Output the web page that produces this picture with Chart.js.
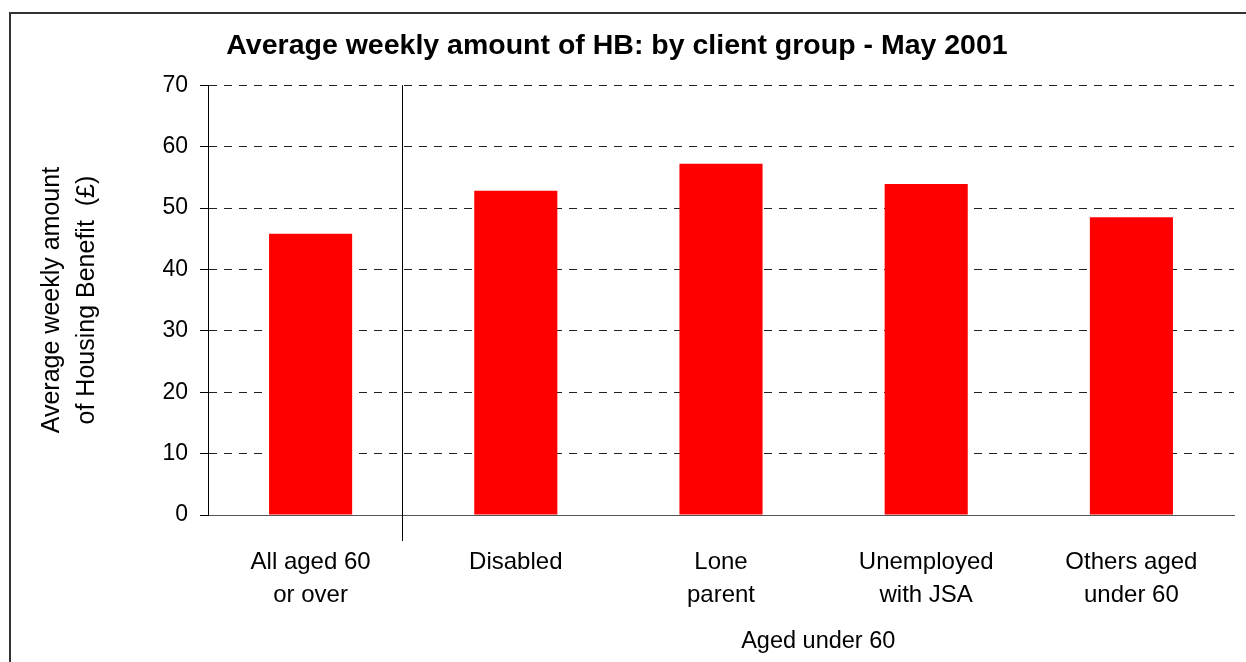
<!DOCTYPE html>
<html>
<head>
<meta charset="utf-8">
<script src="https://cdn.jsdelivr.net/npm/chart.js@4.4.0/dist/chart.umd.min.js"></script>
<style>
  html, body { margin: 0; padding: 0; background: #fff; }
  #wrap { width: 1246px; height: 662px; position: relative; }
</style>
</head>
<body>
<div id="wrap"><canvas id="hb"></canvas></div>
<script>
// datos del grafico
const categorias = [['All aged 60', 'or over'], 'Disabled', ['Lone', 'parent'], ['Unemployed', 'with JSA'], ['Others aged', 'under 60']];
const importes = [45.8, 52.8, 57.2, 53.9, 48.5];
const grupoMenores = 'Aged under 60';
const tituloEjeY = ['Average weekly amount', 'of Housing Benefit  (£)'];

const fuente = '"Liberation Sans", Arial, sans-serif';

// marco, linea separadora y rotulo "Aged under 60"
const extras = {
    id: 'extras',
    beforeDraw(chart) {
        const ctx = chart.ctx;
        ctx.save();
        ctx.strokeStyle = '#333';
        ctx.lineWidth = 2;
        ctx.strokeRect(10, 13, 1400, 800);
        ctx.restore();
    },
    afterDraw(chart) {
        const ctx = chart.ctx;
        const x = chart.scales.x;
        const area = chart.chartArea;
        const sepX = Math.round(x.getPixelForValue(0.443)) + 0.5;
        ctx.save();
        ctx.strokeStyle = '#000';
        ctx.lineWidth = 1;
        ctx.beginPath();
        ctx.moveTo(sepX, area.top);
        ctx.lineTo(sepX, area.bottom + 26);
        ctx.stroke();
        ctx.fillStyle = '#000';
        ctx.font = '23.5px ' + fuente;
        ctx.textAlign = 'center';
        ctx.textBaseline = 'alphabetic';
        ctx.fillText(grupoMenores, (sepX + area.right) / 2, area.bottom + 133);
        ctx.restore();
    }
};

const config = {
    type: 'bar',
    data: {
        labels: categorias,
        datasets: [{
            data: importes,
            backgroundColor: '#ff0000',
            borderWidth: 0,
            categoryPercentage: 1,
            barPercentage: 0.405,
        }],
    },
    options: {
        responsive: true,
        maintainAspectRatio: false,
        animation: false,
        layout: { padding: { left: 0, right: 12, top: 0, bottom: 0 } },
        plugins: {
            legend: { display: false },
            tooltip: { enabled: false },
            title: {
                display: true,
                text: 'Average weekly amount of HB: by client group - May 2001',
                color: '#000',
                font: { family: fuente, size: 28.5, weight: 'bold' },
                padding: { top: 29, bottom: 22 },
            },
        },
        scales: {
            x: {
                grid: { display: false },
                border: { display: true, color: '#555', width: 1 },
                ticks: {
                    color: '#000',
                    font: { family: fuente, size: 24, lineHeight: 1.375 },
                    padding: 23,
                    maxRotation: 0,
                    autoSkip: false,
                },
                afterFit(scale) { scale.height = 147; },
            },
            y: {
                min: 0,
                max: 70,
                ticks: {
                    stepSize: 10,
                    color: '#000',
                    font: { family: fuente, size: 23 },
                    padding: 12,
                },
                grid: {
                    color: '#222',
                    lineWidth: 1,
                    tickLength: 8,
                    tickColor: '#000',
                    tickBorderDash: [],
                },
                border: { display: true, color: '#000', width: 1, dash: [8, 7] },
                title: {
                    display: true,
                    text: tituloEjeY,
                    color: '#000',
                    font: { family: fuente, size: 25, lineHeight: 1.4 },
                    padding: { top: 35, bottom: 0 },
                },
                afterFit(scale) { scale.width = 208; },
            },
        },
    },
    plugins: [extras],
};

const ctxHb = document.getElementById('hb');
window.graficoHb = new Chart(ctxHb, config);
</script>
</body>
</html>
